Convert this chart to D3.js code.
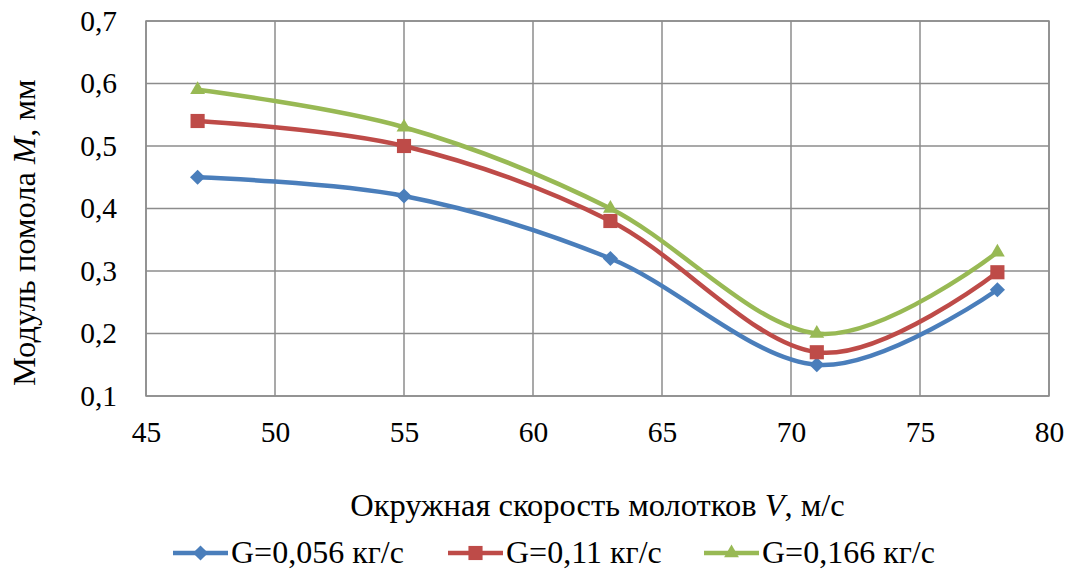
<!DOCTYPE html>
<html>
<head>
<meta charset="utf-8">
<script src="https://cdn.jsdelivr.net/npm/d3@7"></script>
<style>
  body { margin: 0; background: #fff; }
  svg text { font-family: 'Liberation Serif', 'Times New Roman', 'DejaVu Serif', serif; fill: #000; }
</style>
</head>
<body>
<div id="wrapper"></div>
<script>
// данные с графика
const speeds = [47, 55, 63, 71, 78];
const g056 = [0.45, 0.42, 0.32, 0.15, 0.27];
const g011 = [0.54, 0.50, 0.38, 0.17, 0.298];
const g0166 = [0.59, 0.53, 0.40, 0.20, 0.33];
const seriesNames = ['G=0,056 кг/с', 'G=0,11 кг/с', 'G=0,166 кг/с'];
const xTicks = [45, 50, 55, 60, 65, 70, 75, 80];
const yTicks = [0.1, 0.2, 0.3, 0.4, 0.5, 0.6, 0.7];

const series = [
  {name: seriesNames[0], values: g056, color: '#4a7ebb', marker: 'diamond'},
  {name: seriesNames[1], values: g011, color: '#be4b48', marker: 'square'},
  {name: seriesNames[2], values: g0166, color: '#98b954', marker: 'triangle'}
];

const W = 1071, H = 571;
const margin = {top: 21, right: 22, bottom: 175, left: 146};
const width = W - margin.left - margin.right;
const height = H - margin.top - margin.bottom;
const serif = "'Liberation Serif', 'Times New Roman', 'DejaVu Serif', serif";

const svg = d3.select('#wrapper').append('svg')
  .attr('width', W)
  .attr('height', H)
  .attr('font-family', serif);

const g = svg.append('g')
  .attr('transform', `translate(${margin.left},${margin.top})`);

const xscale = d3.scaleLinear().domain([45, 80]).range([0, width]);
const yscale = d3.scaleLinear().domain([0.1, 0.7]).range([height, 0]);
const fmt = d => d3.format('.1f')(d).replace('.', ',');

// сетка
g.append('g')
  .selectAll('line')
  .data(xTicks)
  .join('line')
  .attr('x1', d => xscale(d)).attr('x2', d => xscale(d))
  .attr('y1', 0).attr('y2', height)
  .attr('stroke', '#8c8c8c').attr('stroke-width', 1.5);

g.append('g')
  .selectAll('line')
  .data(yTicks)
  .join('line')
  .attr('x1', 0).attr('x2', width)
  .attr('y1', d => yscale(d)).attr('y2', d => yscale(d))
  .attr('stroke', '#8c8c8c').attr('stroke-width', 1.5);

// оси
const xaxis = d3.axisBottom(xscale).tickValues(xTicks).tickSize(0).tickPadding(25);
g.append('g')
  .attr('transform', `translate(0,${height})`)
  .call(xaxis)
  .attr('font-family', serif)
  .call(s => s.select('.domain').remove())
  .selectAll('text')
  .attr('font-size', 29.5);

const yaxis = d3.axisLeft(yscale).tickValues(yTicks).tickFormat(fmt).tickSize(0).tickPadding(29);
g.append('g')
  .call(yaxis)
  .attr('font-family', serif)
  .call(s => s.select('.domain').remove())
  .selectAll('text')
  .attr('font-size', 29.5);

// подписи осей
const xt = svg.append('text')
  .attr('x', margin.left + width / 2)
  .attr('y', 516)
  .attr('text-anchor', 'middle')
  .attr('font-size', 32.5);
xt.append('tspan').text('Окружная скорость молотков ');
xt.append('tspan').attr('font-style', 'italic').text('V');
xt.append('tspan').text(', м/с');

const yt = svg.append('text')
  .attr('transform', `translate(35,386) rotate(-90)`)
  .attr('text-anchor', 'start')
  .attr('font-size', 32.5);
yt.append('tspan').text('Модуль помола ');
yt.append('tspan').attr('font-style', 'italic').text('M');
yt.append('tspan').text(', мм');

// линии
const line = d3.line()
  .x((d, i) => xscale(speeds[i]))
  .y(d => yscale(d))
  .curve(d3.curveCardinal.tension(0));

const symbolFor = m => m === 'diamond'
  ? d3.symbol().type(d3.symbolSquare).size(115)
  : m === 'square'
    ? d3.symbol().type(d3.symbolSquare).size(200)
    : d3.symbol().type(d3.symbolTriangle).size(95);
const rot = m => m === 'diamond' ? ' rotate(45)' : '';

series.forEach(s => {
  g.append('path')
    .datum(s.values)
    .attr('fill', 'none')
    .attr('stroke', s.color)
    .attr('stroke-width', 4.5)
    .attr('d', line);

  g.selectAll(null)
    .data(s.values)
    .join('path')
    .attr('transform', (d, i) => `translate(${xscale(speeds[i])},${yscale(d)})` + rot(s.marker))
    .attr('d', symbolFor(s.marker))
    .attr('fill', s.color);
});

// рамка
g.append('rect')
  .attr('width', width).attr('height', height)
  .attr('fill', 'none').attr('stroke', '#8c8c8c').attr('stroke-width', 1.5);

// легенда
const legendX = [173, 448, 704];
const legend = svg.append('g');
series.forEach((s, i) => {
  const lg = legend.append('g').attr('transform', `translate(${legendX[i]},553)`);
  lg.append('line')
    .attr('x1', 0).attr('x2', 55)
    .attr('stroke', s.color).attr('stroke-width', 4.5);
  lg.append('path')
    .attr('transform', 'translate(27.5,0)' + rot(s.marker))
    .attr('d', symbolFor(s.marker))
    .attr('fill', s.color);
  lg.append('text')
    .attr('x', 58).attr('y', 10)
    .attr('font-size', 32)
    .text(s.name);
});
</script>
</body>
</html>
